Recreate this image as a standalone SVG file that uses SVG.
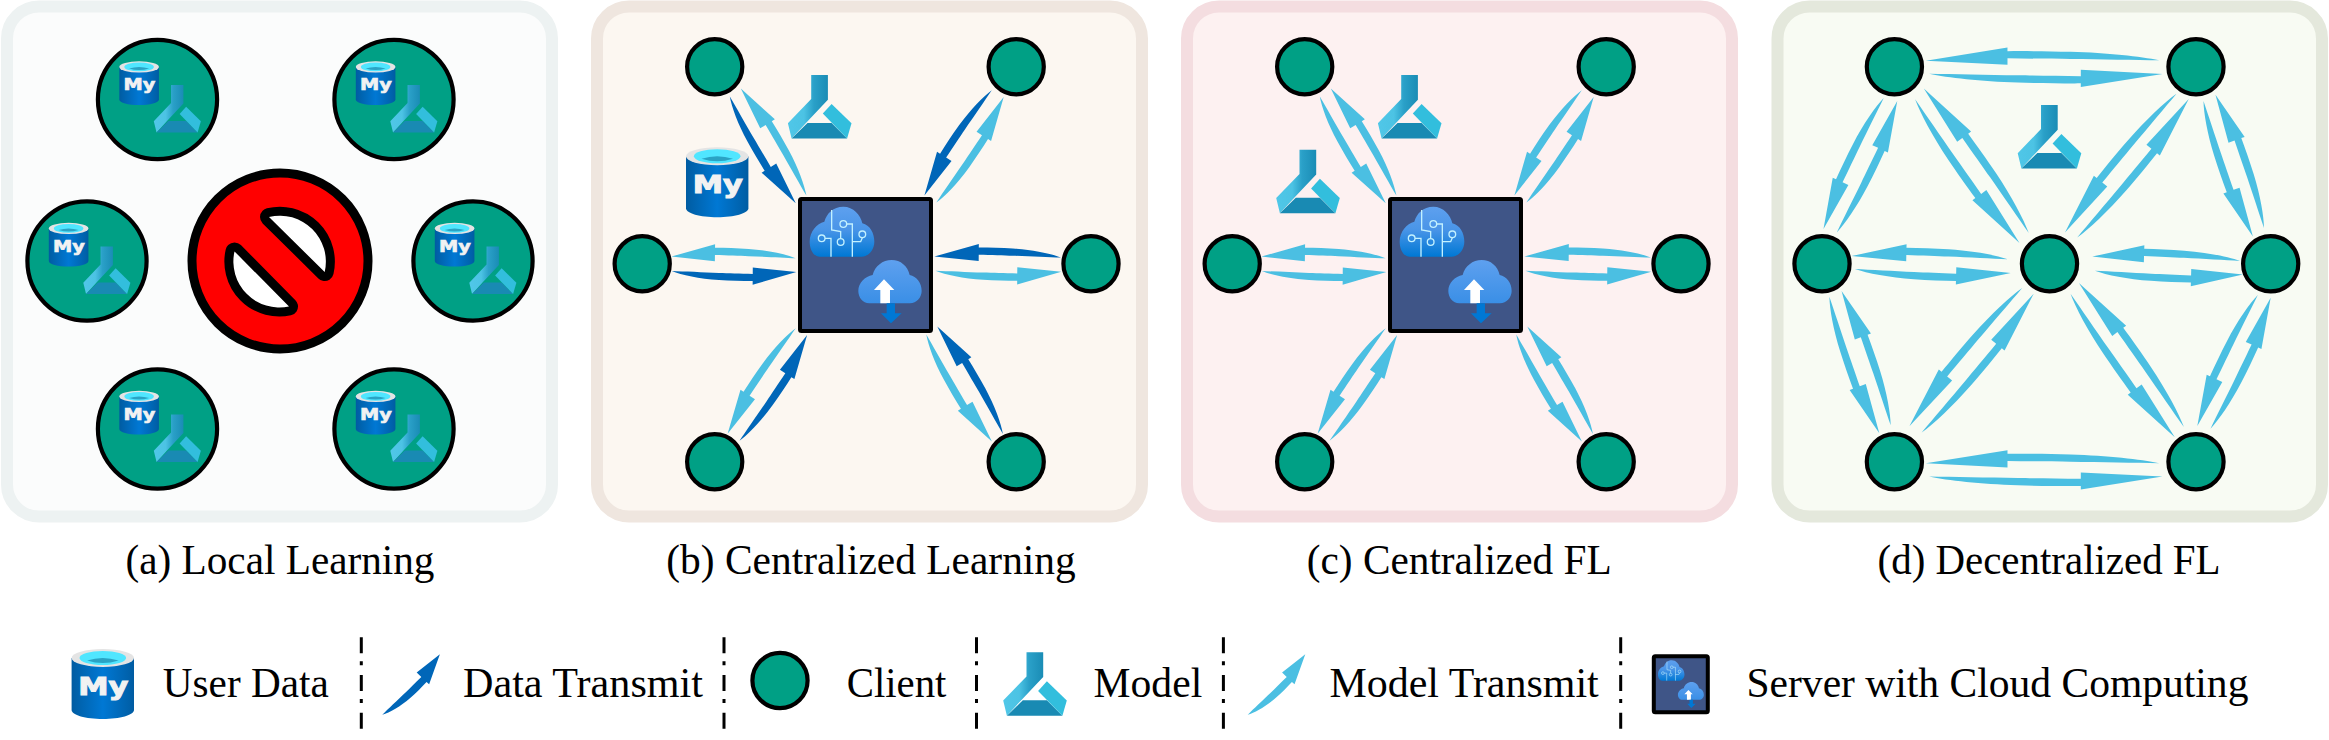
<svg xmlns="http://www.w3.org/2000/svg" width="2329" height="740" viewBox="0 0 2329 740">
<style>
.t{font-family:"Liberation Serif","Times New Roman",serif;font-size:42.5px;fill:#000}
.my{font-family:"DejaVu Sans","Liberation Sans",sans-serif;font-weight:700;font-size:24px;fill:#f2f2f2;stroke:#f2f2f2;stroke-width:1}
.c{fill:#00a085;stroke:#000;stroke-width:4.2}
.l{fill:#4bbfe2}
.k{fill:#0066b8}
.sep{stroke:#000;stroke-width:3;stroke-dasharray:16 8 4 9.7;fill:none}
.srv{fill:#3f5587;stroke:#000;stroke-width:4}
.wire{fill:none;stroke:#c3f1ff;stroke-width:4}
</style>
<defs>
<linearGradient id="gDb" x1="0" x2="1" y1="0" y2="0"><stop offset="0" stop-color="#005ba1"/><stop offset=".07" stop-color="#0060a9"/><stop offset=".5" stop-color="#0078d4"/><stop offset=".94" stop-color="#0060a9"/><stop offset="1" stop-color="#005ba1"/></linearGradient>
<linearGradient id="gFl" x1="0" x2="1" y1="0" y2="0"><stop offset="0" stop-color="#50c7e8"/><stop offset=".4" stop-color="#4cc3e4"/><stop offset=".65" stop-color="#2aa0c8"/><stop offset="1" stop-color="#1a8cb5"/></linearGradient>
<linearGradient id="gCl1" x1="0" x2="0" y1="0" y2="1"><stop offset="0" stop-color="#5ea0ef"/><stop offset=".45" stop-color="#4a95e8"/><stop offset="1" stop-color="#0078d4"/></linearGradient>
<linearGradient id="gCl2" x1="0" x2="0" y1="0" y2="1"><stop offset="0" stop-color="#5ea0ef"/><stop offset="1" stop-color="#3a8fe6"/></linearGradient>
<path id="arr" d="M0,0 C8,4 22,7.5 38,8.7 C47,9.3 57,9.5 65,9.4 L65,13 L100,0 L65,-4.2 L65,2.2 C55,1.9 45,1.7 38,1.5 C25,1 10,.3 0,0 Z"/>
<g id="db">
<path d="M0,9 V61 C0,66 14,70 31.2,70 C48,70 62.4,66 62.4,61 V9 Z" fill="url(#gDb)"/>
<ellipse cx="31.2" cy="9" rx="31.2" ry="9" fill="#e4e4e4"/>
<ellipse cx="31.2" cy="9" rx="23.3" ry="7" fill="#50e6ff"/>
<path d="M15.5,11.5 Q31,6.5 47,11.5 Q31,16.5 15.5,11.5 Z" fill="#2aa3c4"/>
<text class="my" x="6.7" y="46" textLength="50" lengthAdjust="spacingAndGlyphs">My</text>
</g>
<g id="fl">
<polygon points="23.3,0 40,0 40,24.8 18.5,47.4 3.7,63.4 0,48.2 23.3,24.1" fill="url(#gFl)"/>
<polygon points="3.7,63.4 59.2,63.4 43.7,48 19.6,48" fill="#198ab3"/>
<polygon points="34.9,38.6 43.7,28.9 63.6,48.2 59.2,63.4" fill="#32bedd"/>
</g>
<g id="full">
<circle class="c" r="59.6"/>
<use href="#db" transform="translate(-38.2 -38.2) scale(.635 .625)"/>
<use href="#fl" transform="translate(-3.7 -14.5) scale(.74 .75)"/>
</g>
<circle id="cl" class="c" r="27.6"/>
<g id="ic" transform="translate(-30 -19) scale(.3333)">
<path d="M150,230 C130,230 119,208 119,185 C119,155 140,130 163,125 C170,100 190,80 220,80 C250,80 272,105 277,130 C300,135 313,160 313,185 C313,210 295,230 275,230 Z" fill="url(#gCl1)"/>
<path class="wire" d="M185,90 V150 L212,155 V176 M165,175 H183 V230 M230,132 H247 V230 M277,173 L272,185 H247"/>
<circle class="wire" cx="212" cy="186" r="10"/><circle class="wire" cx="155" cy="175" r="10"/><circle class="wire" cx="220" cy="132" r="10"/><circle class="wire" cx="277" cy="163" r="10"/>
<path d="M298,370 C278,370 265,352 265,333 C265,308 285,290 308,285 C315,258 338,240 365,240 C392,240 413,258 419,285 C440,290 455,308 455,333 C455,352 440,370 420,370 Z" fill="url(#gCl2)"/>
<path d="M342,298 L373,330 H360 V370 H331 V330 H312 Z" fill="#fff"/>
<path d="M350,370 H375 V400 H395 L363,430 L333,400 H350 Z" fill="#0078d4"/>
</g>
</defs>

<g id="panels">
<rect x="7" y="6.5" width="545" height="510" rx="32" fill="#fbfcfc" stroke="#edf2f2" stroke-width="12"/>
<rect x="597" y="6.5" width="545" height="510" rx="32" fill="#fcf7f1" stroke="#efe6df" stroke-width="12"/>
<rect x="1187" y="6.5" width="545" height="510" rx="32" fill="#fdf1f1" stroke="#f4dde0" stroke-width="12"/>
<rect x="1777.5" y="6.5" width="544.5" height="510" rx="32" fill="#f8fbf3" stroke="#e4e8dc" stroke-width="12"/>
</g>

<g id="connectors">
<g id="conn-b">
<use href="#arr" class="k" transform="translate(729.8 96.4) rotate(58.3) scale(1.255 1)"/>
<use href="#arr" class="l" transform="translate(806.4 195.6) rotate(-121.5) scale(1.255 1)"/>
<use href="#arr" class="k" transform="translate(991.8 90.2) rotate(122.6) scale(1.251 1)"/>
<use href="#arr" class="l" transform="translate(936.3 202.5) rotate(-57.4) scale(1.251 1)"/>
<use href="#arr" class="l" transform="translate(795.7 258.3) rotate(-179.2) scale(1.243 1)"/>
<use href="#arr" class="k" transform="translate(671.7 271) rotate(.5) scale(1.247 1)"/>
<use href="#arr" class="k" transform="translate(1061 257.6) rotate(-179.5) scale(1.266 1)"/>
<use href="#arr" class="l" transform="translate(935.5 270.7) rotate(.5) scale(1.258 1)"/>
<use href="#arr" class="l" transform="translate(795.7 328.2) rotate(122.8) scale(1.257 1)"/>
<use href="#arr" class="k" transform="translate(739.5 440.8) rotate(-57.4) scale(1.255 1)"/>
<use href="#arr" class="l" transform="translate(926.3 334.4) rotate(58.5) scale(1.255 1)"/>
<use href="#arr" class="k" transform="translate(1002.9 433.9) rotate(-121.4) scale(1.259 1)"/>
</g>
<g id="conn-c" class="l">
<use href="#arr" transform="translate(1319.8 96.4) rotate(58.3) scale(1.255 1)"/>
<use href="#arr" transform="translate(1396.4 195.6) rotate(-121.5) scale(1.255 1)"/>
<use href="#arr" transform="translate(1581.8 90.2) rotate(122.6) scale(1.251 1)"/>
<use href="#arr" transform="translate(1526.3 202.5) rotate(-57.4) scale(1.251 1)"/>
<use href="#arr" transform="translate(1385.7 258.3) rotate(-179.2) scale(1.243 1)"/>
<use href="#arr" transform="translate(1261.7 271) rotate(.5) scale(1.247 1)"/>
<use href="#arr" transform="translate(1651 257.6) rotate(-179.5) scale(1.266 1)"/>
<use href="#arr" transform="translate(1525.5 270.7) rotate(.5) scale(1.258 1)"/>
<use href="#arr" transform="translate(1385.7 328.2) rotate(122.8) scale(1.257 1)"/>
<use href="#arr" transform="translate(1329.5 440.8) rotate(-57.4) scale(1.255 1)"/>
<use href="#arr" transform="translate(1516.3 334.4) rotate(58.5) scale(1.255 1)"/>
<use href="#arr" transform="translate(1592.9 433.9) rotate(-121.4) scale(1.259 1)"/>
</g>
<g id="conn-d" class="l">
<use href="#arr" transform="translate(2159.2 60.3) rotate(179.9) scale(2.334 1)"/>
<use href="#arr" transform="translate(1929.1 73.7) rotate(.1) scale(2.334 1)"/>
<use href="#arr" transform="translate(2159.2 463.2) rotate(180) scale(2.334 1)"/>
<use href="#arr" transform="translate(1929.1 476.6) scale(2.334 1)"/>
<use href="#arr" transform="translate(1883.7 98.1) rotate(114.7) scale(1.441 1)"/>
<use href="#arr" transform="translate(1836.8 232.4) rotate(-65.3) scale(1.447 1)"/>
<use href="#arr" transform="translate(1915.1 99.2) rotate(54) scale(1.776 1)"/>
<use href="#arr" transform="translate(2028.8 233.1) rotate(-126) scale(1.786 1)"/>
<use href="#arr" transform="translate(2176.5 93.7) rotate(128.8) scale(1.78 1)"/>
<use href="#arr" transform="translate(2077.2 237.6) rotate(-51.2) scale(1.78 1)"/>
<use href="#arr" transform="translate(2203.5 100.9) rotate(70) scale(1.444 1)"/>
<use href="#arr" transform="translate(2264 228) rotate(-110) scale(1.419 1)"/>
<use href="#arr" transform="translate(2007.8 259.3) rotate(-178.8) scale(1.562 1)"/>
<use href="#arr" transform="translate(1854.9 268.9) rotate(1.5) scale(1.559 1)"/>
<use href="#arr" transform="translate(2240 261) rotate(-178.3) scale(1.478 1)"/>
<use href="#arr" transform="translate(2094.9 270.7) rotate(1.5) scale(1.481 1)"/>
<use href="#arr" transform="translate(1829.4 296.8) rotate(69.9) scale(1.452 1)"/>
<use href="#arr" transform="translate(1890.7 425.3) rotate(-110.1) scale(1.43 1)"/>
<use href="#arr" transform="translate(2022.2 287.9) rotate(129.2) scale(1.785 1)"/>
<use href="#arr" transform="translate(1921.7 432.5) rotate(-51.1) scale(1.783 1)"/>
<use href="#arr" transform="translate(2070.5 293.7) rotate(54) scale(1.774 1)"/>
<use href="#arr" transform="translate(2183.9 427) rotate(-126.1) scale(1.782 1)"/>
<use href="#arr" transform="translate(2257.8 295.1) rotate(114.8) scale(1.442 1)"/>
<use href="#arr" transform="translate(2210.5 428.7) rotate(-65.3) scale(1.44 1)"/>
</g>
</g>

<g id="a-nodes">
<g id="a-client-1" transform="translate(157.5 99.5)"><use href="#full"/></g>
<g id="a-client-2" transform="translate(394 99.5)"><use href="#full"/></g>
<g id="a-client-3" transform="translate(87 261)"><use href="#full"/></g>
<g id="a-client-4" transform="translate(473 261)"><use href="#full"/></g>
<g id="a-client-5" transform="translate(157.5 429)"><use href="#full"/></g>
<g id="a-client-6" transform="translate(394 429)"><use href="#full"/></g>
<g id="a-forbidden">
<circle cx="280" cy="261" r="88" fill="#f00" stroke="#000" stroke-width="9"/>
<path d="M269,217 A46,46 0 0 1 324.7,272 Z M234.5,251.4 A46,46 0 0 0 289,306.5 Z" fill="#fff" stroke="#000" stroke-width="18" stroke-linejoin="round" paint-order="stroke"/>
</g>
</g>

<g id="b-nodes">
<g id="b-client-1"><use href="#cl" x="714.7" y="66.8"/></g>
<g id="b-client-2"><use href="#cl" x="1016.2" y="66.8"/></g>
<g id="b-client-3"><use href="#cl" x="642.2" y="263.8"/></g>
<g id="b-client-4"><use href="#cl" x="1091" y="263.8"/></g>
<g id="b-client-5"><use href="#cl" x="714.7" y="461.8"/></g>
<g id="b-client-6"><use href="#cl" x="1016.2" y="461.8"/></g>
<g id="b-server"><rect class="srv" x="800" y="199" width="131" height="132" rx="1.5"/><use href="#ic" x="800" y="199"/></g>
<g id="b-model"><use href="#fl" x="787.9" y="75"/></g>
<g id="b-data"><use href="#db" x="686" y="147.3"/></g>
</g>

<g id="c-nodes">
<g id="c-client-1"><use href="#cl" x="1304.7" y="66.8"/></g>
<g id="c-client-2"><use href="#cl" x="1606.2" y="66.8"/></g>
<g id="c-client-3"><use href="#cl" x="1232.2" y="263.8"/></g>
<g id="c-client-4"><use href="#cl" x="1681" y="263.8"/></g>
<g id="c-client-5"><use href="#cl" x="1304.7" y="461.8"/></g>
<g id="c-client-6"><use href="#cl" x="1606.2" y="461.8"/></g>
<g id="c-server"><rect class="srv" x="1390" y="199" width="131" height="132" rx="1.5"/><use href="#ic" x="1390" y="199"/></g>
<g id="c-model-1"><use href="#fl" x="1377.9" y="75"/></g>
<g id="c-model-2"><use href="#fl" x="1276.2" y="149.8"/></g>
</g>

<g id="d-nodes">
<g id="d-client-1"><use href="#cl" x="1894.4" y="66.8"/></g>
<g id="d-client-2"><use href="#cl" x="2196" y="66.8"/></g>
<g id="d-client-3"><use href="#cl" x="1822" y="263.8"/></g>
<g id="d-client-4"><use href="#cl" x="2049.5" y="263.8"/></g>
<g id="d-client-5"><use href="#cl" x="2270.7" y="263.8"/></g>
<g id="d-client-6"><use href="#cl" x="1894.4" y="461.8"/></g>
<g id="d-client-7"><use href="#cl" x="2196" y="461.8"/></g>
<g id="d-model"><use href="#fl" x="2017.7" y="105"/></g>
</g>

<g id="captions">
<text class="t" x="125.5" y="573.5" textLength="309" lengthAdjust="spacingAndGlyphs">(a) Local Learning</text>
<text class="t" x="666.3" y="573.5" textLength="409.5" lengthAdjust="spacingAndGlyphs">(b) Centralized Learning</text>
<text class="t" x="1306.8" y="573.5" textLength="304.8" lengthAdjust="spacingAndGlyphs">(c) Centralized FL</text>
<text class="t" x="1877.6" y="573.5" textLength="343" lengthAdjust="spacingAndGlyphs">(d) Decentralized FL</text>
</g>

<g id="legend">
<g id="legend-data"><use href="#db" x="71.6" y="649"/><text class="t" x="162.8" y="697.3" textLength="166" lengthAdjust="spacingAndGlyphs">User Data</text></g>
<line class="sep" x1="361.3" y1="637.3" x2="361.3" y2="728.7"/>
<g id="legend-data-transmit"><use href="#arr" class="k" transform="translate(382.3 714.7) rotate(-46.4) scale(.835 1)"/><text class="t" x="463" y="697.3" textLength="240" lengthAdjust="spacingAndGlyphs">Data Transmit</text></g>
<line class="sep" x1="724" y1="637.3" x2="724" y2="728.7"/>
<g id="legend-client"><use href="#cl" x="780" y="680.5"/><text class="t" x="846.7" y="697.3" textLength="99.7" lengthAdjust="spacingAndGlyphs">Client</text></g>
<line class="sep" x1="976.5" y1="637.3" x2="976.5" y2="728.7"/>
<g id="legend-model"><use href="#fl" x="1003.2" y="652.3"/><text class="t" x="1093.6" y="697.3" textLength="108.6" lengthAdjust="spacingAndGlyphs">Model</text></g>
<line class="sep" x1="1223.4" y1="637.3" x2="1223.4" y2="728.7"/>
<g id="legend-model-transmit"><use href="#arr" class="l" transform="translate(1247.7 714.7) rotate(-46.4) scale(.835 1)"/><text class="t" x="1329.5" y="697.3" textLength="269.2" lengthAdjust="spacingAndGlyphs">Model Transmit</text></g>
<line class="sep" x1="1620.7" y1="637.3" x2="1620.7" y2="728.7"/>
<g id="legend-server"><rect class="srv" x="1653.8" y="656.3" width="54" height="56" rx="1.5"/><use href="#ic" transform="translate(1654 657) scale(.41)"/><text class="t" x="1746.5" y="697.3" textLength="501.9" lengthAdjust="spacingAndGlyphs">Server with Cloud Computing</text></g>
</g>
</svg>
